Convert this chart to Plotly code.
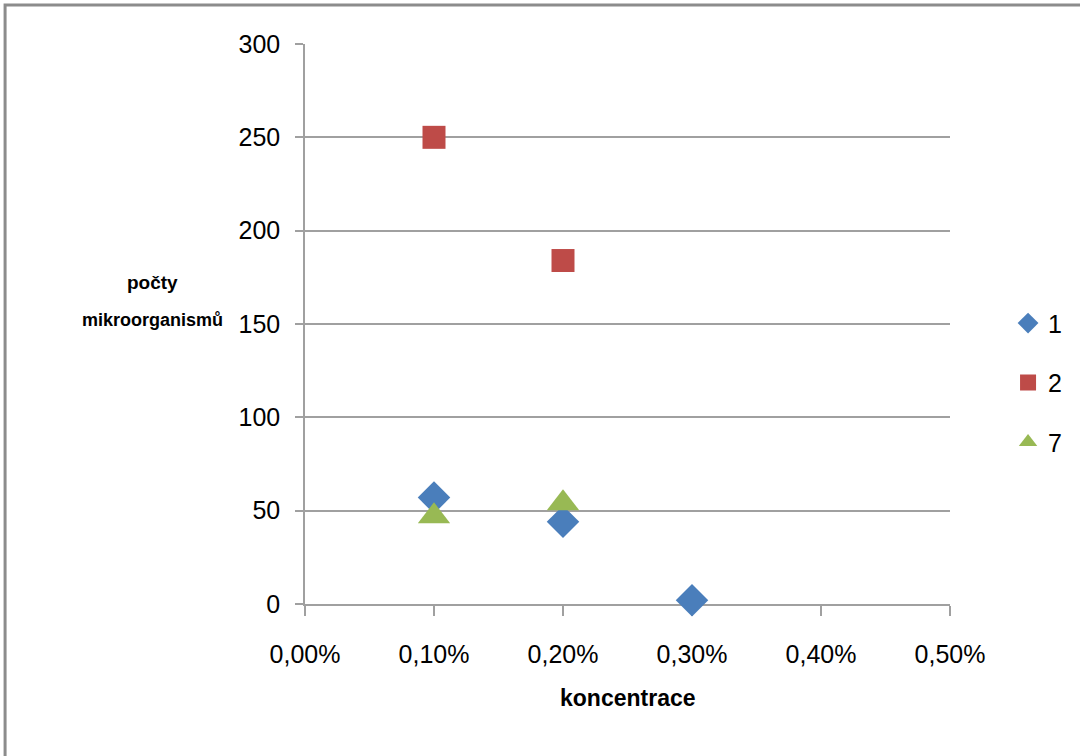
import plotly.graph_objects as go

# data (x as concentration in %)
x1 = [0.1, 0.2, 0.3]
y1 = [57, 44, 2]
x2 = [0.1, 0.2]
y2 = [250, 184]
x7 = [0.1, 0.2]
y7 = [47, 54]

x_tickvals = [0.0, 0.1, 0.2, 0.3, 0.4, 0.5]
x_ticktext = ["0,00%", "0,10%", "0,20%", "0,30%", "0,40%", "0,50%"]
y_tickvals = [0, 50, 100, 150, 200, 250, 300]

FONT = "Liberation Sans, Arial, sans-serif"

fig = go.Figure()
fig.add_trace(go.Scatter(x=x1, y=y1, mode="markers", name="1", legendgroup="a", cliponaxis=False,
                         marker=dict(symbol="diamond", size=25, color="#4a7ebb")))
fig.add_trace(go.Scatter(x=x2, y=y2, mode="markers", name="2", legendgroup="b", cliponaxis=False,
                         marker=dict(symbol="square", size=23, color="#be4b48")))
fig.add_trace(go.Scatter(x=x7, y=y7, mode="markers", name="7", legendgroup="c", cliponaxis=False,
                         marker=dict(symbol="triangle-up", size=28, color="#98b954")))

fig.update_layout(
    width=1080, height=756,
    paper_bgcolor="white", plot_bgcolor="white",
    margin=dict(l=305, r=130, t=44, b=152, autoexpand=False),
    font=dict(family=FONT, size=25, color="#000000"),
    xaxis=dict(range=[0, 0.5], tickvals=x_tickvals, ticktext=x_ticktext,
               showgrid=False, zeroline=False, showline=True, linecolor="#a0a0a0", linewidth=1.5,
               ticks="outside", ticklen=10, tickcolor="#a0a0a0", tickwidth=1.5,
               ticklabelstandoff=17, layer="below traces",
               tickfont=dict(size=25, family=FONT)),
    yaxis=dict(range=[0, 300], tickvals=y_tickvals,
               showgrid=True, gridcolor="#a0a0a0", gridwidth=1.5, zeroline=False,
               showline=True, linecolor="#a0a0a0", linewidth=1.5,
               ticks="outside", ticklen=8, tickcolor="#a0a0a0", tickwidth=1.5,
               ticklabelstandoff=10, layer="below traces",
               tickfont=dict(size=25, family=FONT)),
    legend=dict(x=1.090, y=0.395, xanchor="left", yanchor="middle",
                font=dict(size=25, family=FONT), tracegroupgap=24,
                itemwidth=30, bgcolor="rgba(0,0,0,0)"),
    showlegend=True,
)

# axis titles
fig.add_annotation(text="<b>koncentrace</b>", xref="paper", yref="paper",
                   x=0.5, y=-0.168, xanchor="center", yanchor="middle", showarrow=False,
                   font=dict(size=23, family=FONT))
fig.add_annotation(text="<b>počty</b>", xref="paper", yref="paper",
                   x=-0.236, y=0.575, xanchor="center", yanchor="middle", showarrow=False,
                   font=dict(size=19, family=FONT))
fig.add_annotation(text="<b>mikroorganismů</b>", xref="paper", yref="paper",
                   x=-0.236, y=0.507, xanchor="center", yanchor="middle", showarrow=False,
                   font=dict(size=18, family=FONT))

# chart frame
fig.add_shape(type="rect", xref="paper", yref="paper",
              x0=-0.465, x1=1.3, y0=-0.4, y1=1.0696,
              line=dict(color="#8c8c8c", width=3), fillcolor="rgba(0,0,0,0)", layer="below")

fig.write_html("out.html", config={"displayModeBar": False},
               post_script="document.body.style.margin='0px';")
